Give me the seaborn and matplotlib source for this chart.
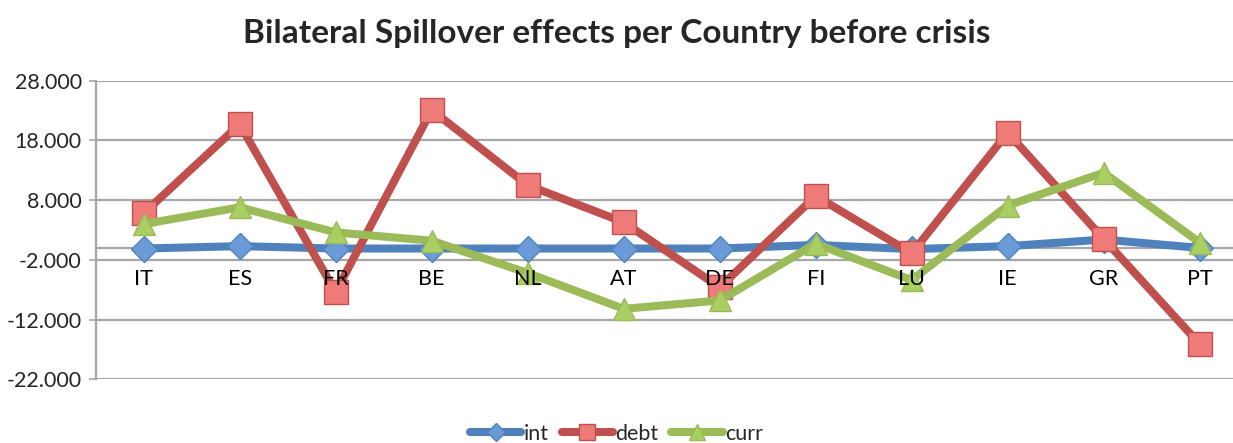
import pandas as pd
import numpy as np
import matplotlib
matplotlib.use("Agg")
import matplotlib.pyplot as plt
from matplotlib.ticker import FixedLocator, FuncFormatter
from matplotlib.lines import Line2D
import seaborn as sns

# --------------------------------------------------
countries = ["IT", "ES", "FR", "BE", "NL", "AT", "DE", "FI", "LU", "IE", "GR", "PT"]
int_vals = [-0.1, 0.3, -0.1, -0.1, -0.1, -0.1, -0.1, 0.5, -0.2, 0.3, 1.4, 0.0]
debt_vals = [5.8, 20.7, -7.4, 23.1, 10.5, 4.3, -6.6, 8.7, -0.9, 19.3, 1.5, -16.1]
curr_vals = [4.0, 6.8, 2.6, 1.2, -4.2, -10.2, -8.8, 0.7, -5.4, 7.1, 12.6, 0.9]
series_names = ["int", "debt", "curr"]
y_ticks = [-22, -12, -2, 8, 18, 28]

line_cols = {"int": "#4F81BD", "debt": "#C0504D", "curr": "#9BBB59"}
face_cols = {"int": "#6A9BD6", "debt": "#EE7B78", "curr": "#A9CF62"}
markers = {"int": "D", "debt": "s", "curr": "^"}
msizes = {"int": 13, "debt": 17, "curr": 16}

df = pd.DataFrame({"country": countries * 3,
                   "value": int_vals + debt_vals + curr_vals,
                   "series": np.repeat(series_names, len(countries))})

sns.set_style("white")
plt.rcParams['font.family'] = ['Lato', 'DejaVu Sans']

fig = plt.figure(figsize=(12.33, 4.43), dpi=100)
ax = fig.add_axes([0.0776, 0.1438, 1 - 0.0776, 0.674])

for name in series_names:
    sub = df[df["series"] == name]
    sns.lineplot(data=sub, x="country", y="value", ax=ax, sort=False,
                 color=line_cols[name], linewidth=5.8, marker=markers[name],
                 markersize=msizes[name], markerfacecolor=face_cols[name],
                 markeredgecolor=line_cols[name], markeredgewidth=1.0,
                 legend=False, zorder=3)

ax.set_ylim(-22, 28)
ax.set_xlim(-0.5, -0.5 + 1137.3 / 96)
ax.set_yticks(y_ticks)
ax.yaxis.set_major_formatter(FuncFormatter(lambda v, p: f"{v:.3f}"))
ax.grid(axis="y", color="#A6A6A6", linewidth=1.6)
ax.set_axisbelow(True)

for s in ["top", "right"]:
    ax.spines[s].set_visible(False)
ax.spines["left"].set_color("#A6A6A6")
ax.spines["left"].set_linewidth(1.6)
ax.spines["bottom"].set_position(("data", 0))
ax.spines["bottom"].set_color("#A6A6A6")
ax.spines["bottom"].set_linewidth(1.6)

ax.set_xticks(range(len(countries)))
ax.set_xticklabels(countries)
ax.tick_params(axis="x", which="major", length=0, pad=15, labelsize=15.5, colors="black")
ax.xaxis.set_minor_locator(FixedLocator(np.arange(0.5, len(countries) - 0.5, 1)))
ax.tick_params(axis="x", which="minor", length=4, width=1.2, color="#A6A6A6", direction="out")
ax.tick_params(axis="y", length=5, width=1.2, color="#A6A6A6", labelsize=15.5, pad=5, left=True)
ax.xaxis.set_zorder(4)
ax.set_xlabel("")
ax.set_ylabel("")

fig.text(0.5, 0.925, "Bilateral Spillover effects per Country before crisis",
         ha="center", va="center", fontsize=24, fontweight="bold")

handles = [Line2D([], [], color=line_cols[n], linewidth=5.8, marker=markers[n],
                  markersize=msizes[n] * 0.7, markerfacecolor=face_cols[n],
                  markeredgecolor=line_cols[n]) for n in series_names]
fig.legend(handles, series_names, loc="lower center", bbox_to_anchor=(0.5, -0.045),
           ncol=3, frameon=False, fontsize=15.5, handlelength=2.4,
           handletextpad=0.1, columnspacing=0.6)

fig.savefig("out.png", dpi=100)
